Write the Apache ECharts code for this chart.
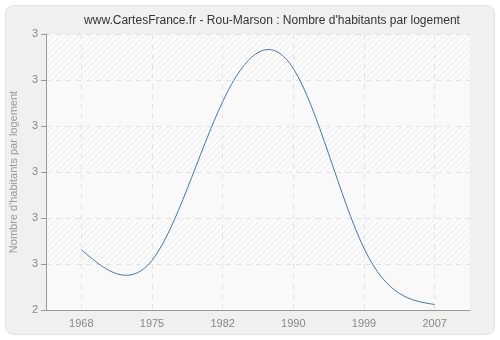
<!DOCTYPE html>
<html><head><meta charset="utf-8">
<script src="https://cdn.jsdelivr.net/npm/echarts@6/dist/echarts.min.js"></script>
<style>html,body{margin:0;padding:0;background:#fff}#c{width:500px;height:340px}</style>
</head><body><div id="c"></div>
<script>
const categories = ['1968', '1975', '1982', '1990', '1999', '2007'];
const values = [2.531, 2.508, 2.853, 2.925, 2.534, 2.412];
const yMin = 2.4, yMax = 3.0, yStep = 0.1;

// natural cubic spline second derivatives (uniform spacing in category index)
function splineM(y) {
  const n = y.length, M = new Array(n).fill(0);
  if (n < 3) return M;
  const c = [], d = [];
  for (let i = 1; i < n - 1; i++) {
    const rhs = 6 * (y[i + 1] - 2 * y[i] + y[i - 1]);
    if (i === 1) { c[i] = 1 / 4; d[i] = rhs / 4; }
    else { const den = 4 - c[i - 1]; c[i] = 1 / den; d[i] = (rhs - d[i - 1]) / den; }
  }
  for (let i = n - 2; i >= 1; i--) M[i] = d[i] - (i < n - 2 ? c[i] * M[i + 1] : 0);
  return M;
}
const M = splineM(values);

function hatch() {
  const c = document.createElement('canvas');
  c.width = 6; c.height = 6;
  const g = c.getContext('2d');
  g.fillStyle = '#fbfbfb'; g.fillRect(0, 0, 6, 6);
  g.strokeStyle = '#ececec'; g.lineWidth = 1;
  g.beginPath();
  g.moveTo(0, 6); g.lineTo(6, 0);
  g.moveTo(-3, 3); g.lineTo(3, -3);
  g.moveTo(3, 9); g.lineTo(9, 3);
  g.stroke();
  return c;
}

const chart = echarts.init(document.getElementById('c'), null, {renderer: 'canvas'});
const font = 'Liberation Sans, Arial, sans-serif';
chart.setOption({
  backgroundColor: '#ffffff',
  animation: false,
  graphic: [{
    type: 'rect', z: -10, silent: true,
    shape: {x: 5.5, y: 5.5, width: 489, height: 329, r: 8},
    style: {fill: '#f0f0f0', stroke: '#e2e2e2', lineWidth: 1}
  }],
  title: {
    text: "www.CartesFrance.fr - Rou-Marson : Nombre d'habitants par logement",
    left: 267, top: 10, textAlign: 'center',
    textStyle: {fontFamily: font, fontSize: 12, fontWeight: 'normal', color: '#333'}
  },
  grid: {left: 41, right: 30, top: 34, bottom: 30, containLabel: false},
  xAxis: {
    type: 'category', data: categories, boundaryGap: true,
    axisLine: {lineStyle: {color: '#999'}},
    axisTick: {alignWithLabel: true, length: 5, lineStyle: {color: '#999'}},
    axisLabel: {color: '#888', fontFamily: font, fontSize: 11, margin: 8},
    splitLine: {show: true, alignWithLabel: true, lineStyle: {color: '#e2e2e2', type: [5, 5]}}
  },
  yAxis: {
    type: 'value', min: yMin, max: yMax, interval: yStep,
    name: "Nombre d'habitants par logement", nameLocation: 'middle', nameGap: 27,
    nameTextStyle: {color: '#999', fontFamily: font, fontSize: 11},
    axisLine: {show: true, lineStyle: {color: '#999'}},
    axisTick: {show: true, length: 5, lineStyle: {color: '#999'}},
    axisLabel: {color: '#888', fontFamily: font, fontSize: 11, margin: 8,
      formatter: v => String(Math.round(v))},
    splitLine: {show: true, lineStyle: {color: '#e2e2e2', type: [5, 5]}},
    splitArea: {show: true, areaStyle: {color: ['#f9f9f9', {image: hatch(), repeat: 'repeat'}]}}
  },
  series: [{
    type: 'custom',
    data: values.map((v, i) => [i, v]),
    encode: {x: 0, y: 1},
    clip: false,
    renderItem: function (params, api) {
      const i = params.dataIndex;
      if (i >= values.length - 1) return null;
      const y0 = values[i], y1 = values[i + 1];
      const d0 = (y1 - y0) - (2 * M[i] + M[i + 1]) / 6;
      const d1 = (y1 - y0) + (M[i] + 2 * M[i + 1]) / 6;
      const p0 = api.coord([i, y0]);
      const p1 = api.coord([i + 1, y1]);
      const c1y = api.coord([i, y0 + d0 / 3])[1];
      const c2y = api.coord([i + 1, y1 - d1 / 3])[1];
      const dx = p1[0] - p0[0];
      return {
        type: 'bezierCurve',
        shape: {x1: p0[0], y1: p0[1], x2: p1[0], y2: p1[1],
          cpx1: p0[0] + dx / 3, cpy1: c1y, cpx2: p0[0] + 2 * dx / 3, cpy2: c2y},
        style: {stroke: '#4a74a8', lineWidth: 1, fill: null}
      };
    }
  }]
});
</script></body></html>
